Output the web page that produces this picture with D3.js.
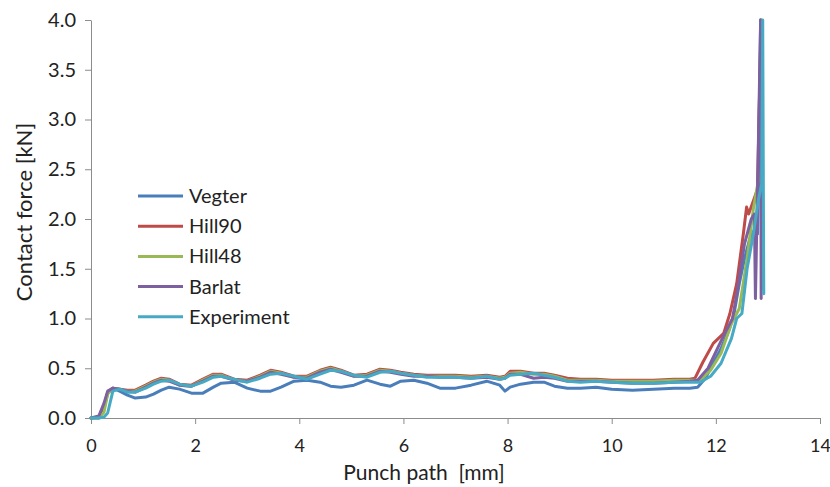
<!DOCTYPE html>
<html>
<head>
<meta charset="utf-8">
<script src="https://cdn.jsdelivr.net/npm/d3@7"></script>
<style>
  body { margin: 0; background: #fff; }
  .chart text { font-family: Lato, "Open Sans", sans-serif; fill: #222; }
</style>
</head>
<body>
<svg class="chart"></svg>
<script>
var seriesNames = ["Vegter", "Hill90", "Hill48", "Barlat", "Experiment"];
var seriesColors = ["#4a7ebb", "#be4b48", "#98b954", "#7d60a0", "#46aac5"];

var xTicks = [0, 2, 4, 6, 8, 10, 12, 14];
var yTicks = [0, 0.5, 1, 1.5, 2, 2.5, 3, 3.5, 4];

// punch path grid shared by the flat part of all curves
var pathGrid = [0, 0.15, 0.25, 0.32, 0.42, 0.55, 0.7, 0.85, 1.05, 1.2, 1.35, 1.5, 1.7, 1.93,
  2.15, 2.35, 2.5, 2.75, 3.0, 3.25, 3.45, 3.65, 3.9, 4.15, 4.4, 4.6, 4.8, 5.05, 5.3, 5.55,
  5.75, 5.95, 6.2, 6.45, 6.7, 7.0, 7.3, 7.6, 7.85, 7.95, 8.05, 8.25, 8.5, 8.7, 8.9, 9.15,
  9.4, 9.7, 10.0, 10.4, 10.8, 11.2, 11.5];

var vegter = [0, 0, 0.1, 0.25, 0.3, 0.27, 0.23, 0.2, 0.21, 0.24, 0.28, 0.31, 0.29, 0.25,
  0.25, 0.31, 0.35, 0.36, 0.3, 0.27, 0.27, 0.31, 0.37, 0.38, 0.36, 0.32, 0.31, 0.33, 0.38, 0.34,
  0.32, 0.37, 0.38, 0.35, 0.3, 0.3, 0.33, 0.37, 0.33, 0.27, 0.31, 0.34, 0.36, 0.36, 0.32, 0.3,
  0.3, 0.31, 0.29, 0.28, 0.29, 0.3, 0.3];
var hill90 = [0, 0.01, 0.12, 0.26, 0.3, 0.29, 0.28, 0.28, 0.33, 0.37, 0.4, 0.39, 0.34, 0.33,
  0.39, 0.44, 0.44, 0.39, 0.38, 0.43, 0.48, 0.46, 0.42, 0.42, 0.48, 0.51, 0.48, 0.43, 0.44, 0.49,
  0.48, 0.46, 0.44, 0.43, 0.43, 0.43, 0.42, 0.43, 0.41, 0.42, 0.47, 0.47, 0.45, 0.45, 0.43, 0.4,
  0.39, 0.39, 0.38, 0.38, 0.38, 0.39, 0.39];
var hill48 = [0, 0, 0.06, 0.24, 0.3, 0.29, 0.27, 0.27, 0.32, 0.36, 0.39, 0.38, 0.33, 0.32,
  0.38, 0.43, 0.43, 0.38, 0.37, 0.42, 0.47, 0.45, 0.41, 0.41, 0.47, 0.5, 0.47, 0.42, 0.43, 0.48,
  0.47, 0.45, 0.43, 0.42, 0.42, 0.42, 0.41, 0.42, 0.4, 0.41, 0.45, 0.46, 0.44, 0.44, 0.42, 0.38,
  0.38, 0.38, 0.37, 0.37, 0.37, 0.38, 0.38];
var barlat = [0, 0.02, 0.15, 0.27, 0.3, 0.29, 0.27, 0.26, 0.31, 0.35, 0.38, 0.37, 0.33, 0.32,
  0.37, 0.42, 0.42, 0.38, 0.37, 0.41, 0.46, 0.44, 0.41, 0.4, 0.46, 0.49, 0.46, 0.42, 0.42, 0.47,
  0.46, 0.44, 0.42, 0.42, 0.41, 0.41, 0.4, 0.41, 0.39, 0.4, 0.44, 0.44, 0.4, 0.41, 0.4, 0.37,
  0.37, 0.37, 0.36, 0.35, 0.35, 0.36, 0.37];
var experiment = [0, 0, 0.01, 0.05, 0.27, 0.29, 0.26, 0.26, 0.3, 0.34, 0.37, 0.38, 0.34, 0.32,
  0.36, 0.41, 0.42, 0.39, 0.36, 0.4, 0.44, 0.45, 0.42, 0.39, 0.44, 0.48, 0.47, 0.43, 0.41, 0.46,
  0.47, 0.45, 0.43, 0.41, 0.41, 0.41, 0.4, 0.42, 0.39, 0.4, 0.43, 0.44, 0.45, 0.43, 0.41, 0.37,
  0.36, 0.37, 0.36, 0.35, 0.35, 0.36, 0.36];

// final rise and rupture spike, [path, force]
var vegterTail = [[11.65, 0.31], [11.8, 0.4], [11.95, 0.55], [12.1, 0.7], [12.25, 0.88], [12.35, 1.05],
  [12.45, 1.35], [12.55, 1.6], [12.65, 1.8], [12.75, 1.9], [12.8, 1.85], [12.86, 4.0], [12.88, 1.3]];
var hill90Tail = [[11.6, 0.4], [11.75, 0.56], [11.95, 0.75], [12.15, 0.85], [12.27, 1.05], [12.4, 1.35],
  [12.53, 1.86], [12.59, 2.12], [12.63, 2.05], [12.8, 2.3], [12.87, 4.0], [12.89, 1.3]];
var hill48Tail = [[11.7, 0.38], [11.9, 0.48], [12.1, 0.65], [12.3, 0.95], [12.45, 1.1], [12.6, 1.6],
  [12.72, 2.1], [12.82, 2.4], [12.87, 4.0], [12.89, 1.3]];
var barlatTail = [[11.65, 0.38], [11.85, 0.5], [12.05, 0.72], [12.2, 0.88], [12.32, 1.0], [12.42, 1.3],
  [12.55, 1.75], [12.68, 2.0], [12.74, 2.05], [12.76, 1.2], [12.8, 2.3], [12.86, 4.0], [12.87, 1.2]];
var experimentTail = [[11.7, 0.36], [11.9, 0.42], [12.1, 0.55], [12.3, 0.8], [12.4, 1.0], [12.5, 1.05],
  [12.6, 1.5], [12.72, 1.85], [12.82, 2.2], [12.88, 2.35], [12.9, 4.0], [12.92, 1.25]];

var flat = [vegter, hill90, hill48, barlat, experiment];
var tails = [vegterTail, hill90Tail, hill48Tail, barlatTail, experimentTail];

var series = seriesNames.map(function(name, i) {
  var pts = pathGrid.map(function(p, j) { return [p, flat[i][j]]; });
  return { name: name, color: seriesColors[i], points: pts.concat(tails[i]) };
});

var margin = {top: 20, right: 10, bottom: 69, left: 91};

var svg = d3.select(".chart")
    .attr("width", 830)
    .attr("height", 487);

var chart = svg.append("g")
    .attr("transform", "translate(" + margin.left + "," + margin.top + ")");

var x = d3.scaleLinear().domain([0, 14]).range([0, 729]);
var y = d3.scaleLinear().domain([0, 4]).range([398, 0]);

var xAxis = d3.axisBottom(x).tickValues(xTicks).tickSize(6).tickSizeOuter(0)
    .tickFormat(d3.format("d"));
var yAxis = d3.axisLeft(y).tickValues(yTicks).tickSize(6).tickSizeOuter(0)
    .tickFormat(d3.format(".1f"));

chart.append("g")
    .attr("class", "x axis")
    .attr("transform", "translate(0,398)")
    .call(xAxis);

chart.append("g")
    .attr("class", "y axis")
    .call(yAxis);

chart.selectAll(".axis path, .axis line")
    .attr("stroke", "#8c8c8c");
chart.selectAll(".axis text")
    .style("font-size", "20px")
    .attr("fill", "#222");
chart.selectAll(".x.axis text")
    .style("font-size", "18px")
    .attr("y", 21);
chart.selectAll(".y.axis text").attr("x", -15);

var line = d3.line()
    .x(function(d) { return x(d[0]); })
    .y(function(d) { return y(d[1]); })
    .curve(d3.curveLinear);

chart.selectAll(".serie")
    .data(series)
    .enter().append("path")
      .attr("class", "serie")
      .attr("fill", "none")
      .attr("stroke", function(d) { return d.color; })
      .attr("stroke-width", 3)
      .attr("stroke-linejoin", "round")
      .attr("stroke-linecap", "round")
      .attr("d", function(d) { return line(d.points); });

svg.append("text")
    .attr("x", 424)
    .attr("y", 480)
    .attr("text-anchor", "middle")
    .style("font-size", "21px")
    .style("white-space", "pre")
    .text("Punch path  [mm]");

svg.append("text")
    .attr("transform", "translate(32,212) rotate(-90)")
    .attr("text-anchor", "middle")
    .style("font-size", "22px")
    .text("Contact force [kN]");

var legend = svg.selectAll(".legend")
    .data(series)
    .enter().append("g")
      .attr("class", "legend")
      .attr("transform", function(d, i) { return "translate(138," + (196 + i * 30.2) + ")"; });

legend.append("line")
    .attr("x1", 0)
    .attr("x2", 45)
    .attr("stroke", function(d) { return d.color; })
    .attr("stroke-width", 3);

legend.append("text")
    .attr("x", 51)
    .attr("dy", ".35em")
    .style("font-size", "20px")
    .text(function(d) { return d.name; });
</script>
</body>
</html>
